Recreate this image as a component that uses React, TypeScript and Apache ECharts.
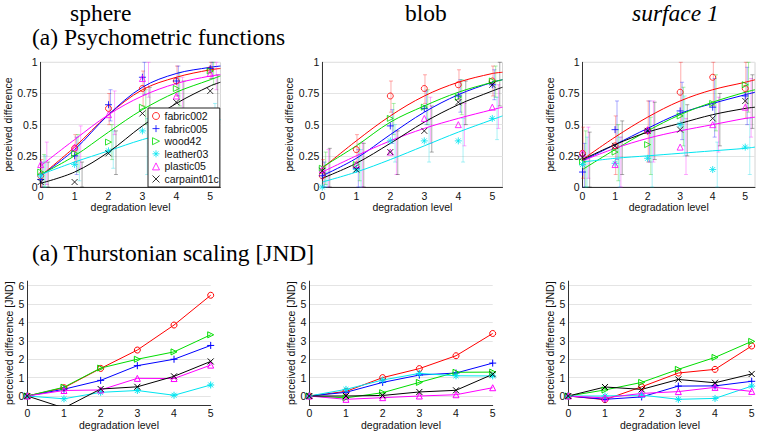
import React, { useEffect, useRef } from 'react';
import * as echarts from 'echarts';

const MATERIALS = ['fabric002', 'fabric005', 'wood42', 'leather03', 'plastic05', 'carpaint01c'];
const LEVELS = [0, 1, 2, 3, 4, 5];
const FIT_X = [0, 1, 2, 3, 4, 5, 5.3];
const PANEL_TITLES = ['sphere', 'blob', 'surface 1'];
const ROW_TITLES = ['(a) Psychometric functions', '(a) Thurstonian scaling [JND]'];
const TOP_Y_TICKS = [0, 0.25, 0.5, 0.75, 1];

// ---- sphere (psychometric) ----
const spherePts = [
  [0.09, 0.31, 0.63, 0.79, 0.85, 0.94],
  [0.06, 0.25, 0.66, 0.88, 0.85, 0.95],
  [0.12, 0.27, 0.36, 0.64, 0.79, 0.93],
  [0.09, 0.18, 0.29, 0.45, 0.47, 0.5],
  [0.18, 0.32, 0.58, 0.87, 0.73, 0.91],
  [0.04, 0.04, 0.27, 0.59, 0.68, 0.77],
];
const sphereFit = [
  [0.09, 0.32, 0.58, 0.78, 0.88, 0.94, 0.95],
  [0.09, 0.3, 0.58, 0.8, 0.91, 0.96, 0.97],
  [0.1, 0.25, 0.44, 0.62, 0.76, 0.86, 0.89],
  [0.1, 0.2, 0.29, 0.38, 0.45, 0.52, 0.54],
  [0.17, 0.38, 0.58, 0.73, 0.83, 0.89, 0.9],
  [0.03, 0.12, 0.28, 0.49, 0.67, 0.81, 0.84],
];
const sphereLo = [
  [0.0, 0.2, 0.5, 0.65, 0.73, 0.87],
  [0.0, 0.1, 0.53, 0.74, 0.73, 0.87],
  [0.0, 0.12, 0.22, 0.5, 0.65, 0.82],
  [0.0, 0.05, 0.15, 0.1, 0.3, 0.25],
  [0.02, 0.15, 0.42, 0.72, 0.57, 0.78],
  [0.0, 0.0, 0.1, 0.35, 0.5, 0.6],
];
const sphereHi = [
  [0.22, 0.42, 0.75, 0.93, 0.97, 1.0],
  [0.2, 0.4, 0.78, 1.0, 0.97, 1.0],
  [0.26, 0.42, 0.5, 0.78, 0.92, 1.0],
  [0.25, 0.35, 0.45, 0.55, 0.6, 0.67],
  [0.36, 0.49, 0.77, 1.0, 0.88, 1.0],
  [0.2, 0.2, 0.45, 0.8, 0.85, 0.9],
];

// ---- blob (psychometric) ----
const blobPts = [
  [0.09, 0.3, 0.73, 0.79, 0.82, 0.85],
  [0.09, 0.15, 0.49, 0.63, 0.73, 0.82],
  [0.15, 0.18, 0.55, 0.64, 0.72, 0.85],
  [0.0, 0.14, 0.37, 0.37, 0.37, 0.55],
  [0.14, 0.18, 0.28, 0.55, 0.5, 0.64],
  [0.13, 0.14, 0.28, 0.45, 0.68, 0.82],
];
const blobFit = [
  [0.15, 0.37, 0.57, 0.73, 0.84, 0.91, 0.92],
  [0.09, 0.23, 0.42, 0.6, 0.74, 0.84, 0.86],
  [0.16, 0.33, 0.52, 0.65, 0.76, 0.84, 0.86],
  [0.04, 0.12, 0.22, 0.33, 0.44, 0.54, 0.57],
  [0.12, 0.25, 0.37, 0.47, 0.55, 0.62, 0.64],
  [0.07, 0.19, 0.35, 0.52, 0.66, 0.77, 0.8],
];
const blobLo = [
  [0.0, 0.2, 0.6, 0.67, 0.7, 0.73],
  [0.0, 0.0, 0.35, 0.5, 0.6, 0.7],
  [0.02, 0.05, 0.42, 0.5, 0.58, 0.72],
  [0.0, 0.0, 0.2, 0.2, 0.2, 0.38],
  [0.0, 0.0, 0.1, 0.35, 0.33, 0.47],
  [0.0, 0.0, 0.1, 0.28, 0.5, 0.65],
];
const blobHi = [
  [0.22, 0.42, 0.85, 0.9, 0.94, 0.97],
  [0.2, 0.3, 0.62, 0.77, 0.86, 0.94],
  [0.28, 0.35, 0.67, 0.78, 0.86, 0.97],
  [0.12, 0.3, 0.5, 0.55, 0.55, 0.72],
  [0.3, 0.36, 0.45, 0.72, 0.67, 0.82],
  [0.31, 0.35, 0.45, 0.65, 0.85, 1.0],
];

// ---- surface 1 (psychometric) ----
const surfPts = [
  [0.27, 0.33, 0.45, 0.76, 0.88, 0.79],
  [0.12, 0.46, 0.45, 0.61, 0.64, 0.73],
  [0.2, 0.28, 0.34, 0.57, 0.67, 0.82],
  [0.18, 0.19, 0.23, 0.5, 0.14, 0.32],
  [0.27, 0.18, 0.46, 0.32, 0.5, 0.64],
  [0.24, 0.33, 0.45, 0.46, 0.55, 0.69],
];
const surfFit = [
  [0.22, 0.4, 0.56, 0.69, 0.78, 0.84, 0.86],
  [0.21, 0.34, 0.47, 0.59, 0.67, 0.74, 0.76],
  [0.14, 0.3, 0.45, 0.58, 0.68, 0.76, 0.78],
  [0.2, 0.23, 0.25, 0.27, 0.29, 0.31, 0.32],
  [0.21, 0.31, 0.39, 0.45, 0.5, 0.55, 0.56],
  [0.22, 0.34, 0.44, 0.51, 0.58, 0.63, 0.64],
];
const surfLo = [
  [0.07, 0.1, 0.2, 0.5, 0.65, 0.55],
  [0.0, 0.22, 0.2, 0.38, 0.4, 0.5],
  [0.0, 0.05, 0.1, 0.33, 0.45, 0.6],
  [0.0, 0.0, 0.0, 0.25, 0.0, 0.1],
  [0.07, 0.0, 0.2, 0.1, 0.28, 0.4],
  [0.0, 0.1, 0.22, 0.25, 0.33, 0.47],
];
const surfHi = [
  [0.48, 0.57, 0.69, 1.0, 1.0, 1.0],
  [0.35, 0.69, 0.69, 0.84, 0.87, 0.96],
  [0.45, 0.5, 0.56, 0.8, 0.9, 1.0],
  [0.4, 0.4, 0.45, 0.73, 0.36, 0.55],
  [0.48, 0.4, 0.69, 0.55, 0.72, 0.87],
  [0.44, 0.53, 0.68, 0.66, 0.75, 0.9],
];

// ---- Thurstonian scaling [JND] ----
const sphereJnd = [
  [0, 0.45, 1.5, 2.5, 3.86, 5.48],
  [0, 0.37, 0.85, 1.65, 2.0, 2.75],
  [0, 0.48, 1.52, 2.0, 2.4, 3.33],
  [0, -0.15, 0.2, 0.3, 0.04, 0.6],
  [0, 0.3, 0.33, 0.96, 0.95, 1.68],
  [0, -0.65, 0.38, 0.5, 1.07, 1.88],
];
const blobJnd = [
  [0, 0.25, 1.0, 1.49, 2.19, 3.4],
  [0, 0.2, 0.74, 1.14, 1.25, 1.79],
  [0, -0.1, 0.18, 0.74, 1.29, 1.3],
  [0, 0.36, 0.87, 1.23, 1.1, 1.09],
  [0, -0.18, -0.09, 0.0, 0.07, 0.45],
  [0, 0.0, 0.03, 0.22, 0.31, 1.18],
];
const surfJnd = [
  [0, -0.2, 0.5, 1.25, 1.45, 2.72],
  [0, -0.18, -0.05, 0.54, 0.55, 0.8],
  [0, 0.33, 0.74, 1.45, 2.1, 2.97],
  [0, 0.0, 0.05, -0.18, -0.13, 0.54],
  [0, -0.1, 0.14, 0.24, 0.47, 0.25],
  [0, 0.49, 0.36, 0.9, 0.72, 1.2],
];

const FONT = '"Liberation Sans", Arial, Helvetica, sans-serif';
const SERIF = '"Liberation Serif", "Times New Roman", serif';
const COLORS = ['#ff0000', '#0000ff', '#00dd00', '#00e5f0', '#ff00ff', '#000000'];
const ERR_COLORS = ['#ff0000', '#0000ff', '#00cc00', '#00d8e8', '#ff00ff', '#000000'];
const SYMBOLS = [
  'circle',
  'path://M5,0L5,10M0,5L10,5',
  'path://M0,0L10,5L0,10Z',
  'path://M5,0L5,10M0,5L10,5M1.5,1.5L8.5,8.5M8.5,1.5L1.5,8.5',
  'triangle',
  'path://M0,0L10,10M10,0L0,10',
];
const SYM_SIZE = [6, 7, 6, 7, 6, 6];

const TOP_GRIDS = [
  { left: 40.7, top: 62.3, width: 179.7, height: 124.7 },
  { left: 322.3, top: 62.3, width: 180.2, height: 124.7 },
  { left: 582.5, top: 62.3, width: 179.5, height: 124.7 },
];
const BOT_GRIDS = [
  { left: 27.3, top: 281.1, width: 183.4, height: 124.1 },
  { left: 309.3, top: 281.1, width: 183.4, height: 124.1 },
  { left: 568.3, top: 281.1, width: 183.4, height: 124.1 },
];

const TOP_DATA = [
  { pts: spherePts, fit: sphereFit, lo: sphereLo, hi: sphereHi },
  { pts: blobPts, fit: blobFit, lo: blobLo, hi: blobHi },
  { pts: surfPts, fit: surfFit, lo: surfLo, hi: surfHi },
];
const BOT_DATA = [sphereJnd, blobJnd, surfJnd];

const labelStyle = { color: '#111', fontSize: 10.5, fontFamily: FONT };
const nameStyle = { color: '#111', fontSize: 10.5, fontFamily: FONT };
const axisLineStyle = { show: true, onZero: false, lineStyle: { color: '#333', width: 1 } };

function errRender(offset: number, color: string) {
  return (params: any, api: any) => {
    const x = api.value(0) + offset;
    const lo = api.coord([x, api.value(1)]);
    const hi = api.coord([x, api.value(2)]);
    const w = 2;
    const st = { stroke: color, lineWidth: 1, opacity: 0.33 };
    return {
      type: 'group',
      children: [
        { type: 'line', shape: { x1: lo[0], y1: lo[1], x2: hi[0], y2: hi[1] }, style: st },
        { type: 'line', shape: { x1: lo[0] - w, y1: lo[1], x2: lo[0] + w, y2: lo[1] }, style: st },
        { type: 'line', shape: { x1: hi[0] - w, y1: hi[1], x2: hi[0] + w, y2: hi[1] }, style: st },
      ],
    };
  };
}

function buildOption() {
  const grid: any[] = [];
  const xAxis: any[] = [];
  const yAxis: any[] = [];
  const series: any[] = [];

  TOP_GRIDS.forEach((g, p) => {
    grid.push({ ...g, show: true, borderColor: '#d4d4d4', borderWidth: 1, backgroundColor: 'transparent' });
    xAxis.push({
      gridIndex: p, type: 'value', min: 0, max: 5.3, interval: 1,
      axisLine: axisLineStyle, axisTick: { show: false }, splitLine: { show: false },
      axisLabel: { ...labelStyle, margin: 3, formatter: (v: number) => (Number.isInteger(v) ? String(v) : '') },
      name: 'degradation level', nameLocation: 'middle', nameGap: 12, nameTextStyle: nameStyle,
    });
    yAxis.push({
      gridIndex: p, type: 'value', min: 0, max: 1, interval: 0.25,
      axisLine: axisLineStyle, axisTick: { show: false },
      splitLine: { show: true, lineStyle: { color: '#e4e4e4', width: 1 } },
      axisLabel: { ...labelStyle, margin: 3, formatter: (v: number) => (TOP_Y_TICKS.includes(v) ? String(v) : '') },
      name: 'perceived difference', nameLocation: 'middle', nameGap: 23, nameTextStyle: nameStyle,
    });
    const d = TOP_DATA[p];
    MATERIALS.forEach((m, i) => {
      series.push({
        type: 'custom', xAxisIndex: p, yAxisIndex: p, z: 1, silent: true,
        renderItem: errRender(0.02 + i * 0.04, ERR_COLORS[i]),
        encode: { x: 0, y: [1, 2] },
        data: LEVELS.map((lv, k) => [lv, d.lo[i][k], d.hi[i][k]]),
      });
    });
    MATERIALS.forEach((m, i) => {
      series.push({
        type: 'line', xAxisIndex: p, yAxisIndex: p, z: 2, silent: true,
        showSymbol: false, symbol: 'none', smooth: 0.35,
        lineStyle: { color: COLORS[i], width: 1 },
        data: FIT_X.map((x, k) => [x, d.fit[i][k]]),
      });
    });
    MATERIALS.forEach((m, i) => {
      series.push({
        type: 'scatter', name: p === 0 ? m : undefined, xAxisIndex: p, yAxisIndex: p, z: 3, silent: true,
        symbol: SYMBOLS[i], symbolSize: SYM_SIZE[i],
        itemStyle: { color: 'transparent', borderColor: COLORS[i], borderWidth: 1 },
        data: LEVELS.map((lv, k) => [lv, d.pts[i][k]]),
      });
    });
  });

  BOT_GRIDS.forEach((g, q) => {
    const p = q + 3;
    grid.push({ ...g });
    xAxis.push({
      gridIndex: p, type: 'value', min: 0, max: 5, interval: 1,
      axisLine: axisLineStyle, axisTick: { show: false }, splitLine: { show: false },
      axisLabel: { ...labelStyle, margin: 2 },
      name: 'degradation level', nameLocation: 'middle', nameGap: 12, nameTextStyle: nameStyle,
    });
    yAxis.push({
      gridIndex: p, type: 'value', min: -0.5, max: 6.25, interval: 0.5,
      axisLine: axisLineStyle, axisTick: { show: false },
      splitLine: { show: true, lineStyle: { color: ['rgba(0,0,0,0)', '#e4e4e4'], width: 1 } },
      axisLabel: { ...labelStyle, margin: 3, formatter: (v: number) => (Math.abs(v - Math.round(v)) < 1e-6 ? String(Math.round(v)) : '') },
      name: 'perceived difference [JND]', nameLocation: 'middle', nameGap: 11, nameTextStyle: nameStyle,
    });
    const d = BOT_DATA[q];
    MATERIALS.forEach((m, i) => {
      series.push({
        type: 'line', xAxisIndex: p, yAxisIndex: p, z: 2, silent: true, clip: true,
        symbol: SYMBOLS[i], symbolSize: SYM_SIZE[i], showSymbol: true,
        lineStyle: { color: COLORS[i], width: 1 },
        itemStyle: { color: 'transparent', borderColor: COLORS[i], borderWidth: 1 },
        data: LEVELS.map((lv, k) => [lv, d[i][k]]),
      });
    });
  });

  const graphic: any[] = [
    { type: 'text', x: 70, y: 13, style: { text: PANEL_TITLES[0], font: `23.5px ${SERIF}`, fill: '#000', align: 'left', verticalAlign: 'middle' } },
    { type: 'text', x: 405, y: 13, style: { text: PANEL_TITLES[1], font: `23.5px ${SERIF}`, fill: '#000', align: 'left', verticalAlign: 'middle' } },
    { type: 'text', x: 632, y: 13, style: { text: PANEL_TITLES[2], font: `italic 23.5px ${SERIF}`, fill: '#000', align: 'left', verticalAlign: 'middle' } },
    { type: 'text', x: 32, y: 37, style: { text: ROW_TITLES[0], font: `23.5px ${SERIF}`, fill: '#000', align: 'left', verticalAlign: 'middle' } },
    { type: 'text', x: 32, y: 252.5, style: { text: ROW_TITLES[1], font: `23.5px ${SERIF}`, fill: '#000', align: 'left', verticalAlign: 'middle' } },
  ];

  return {
    animation: false,
    backgroundColor: '#ffffff',
    grid, xAxis, yAxis, series, graphic,
    legend: {
      orient: 'vertical', left: 148, top: 108,
      padding: [2, 1, 2, 4], itemGap: 0.6, itemWidth: 7, itemHeight: 7,
      backgroundColor: '#ffffff', borderColor: '#222', borderWidth: 1,
      selectedMode: false,
      textStyle: { color: '#111', fontSize: 10.5, fontFamily: FONT, lineHeight: 12 },
      data: MATERIALS.map((m, i) => ({
        name: m, icon: SYMBOLS[i],
        itemStyle: { color: 'transparent', borderColor: COLORS[i], borderWidth: 1 },
      })),
    },
  };
}

export default function App() {
  const ref = useRef<HTMLDivElement>(null);
  useEffect(() => {
    if (!ref.current) return;
    const chart = echarts.init(ref.current, undefined, { renderer: 'svg' });
    chart.setOption(buildOption() as any);
    return () => chart.dispose();
  }, []);
  return <div ref={ref} style={{ position: 'fixed', left: 0, top: 0, width: 758, height: 434 }} />;
}
